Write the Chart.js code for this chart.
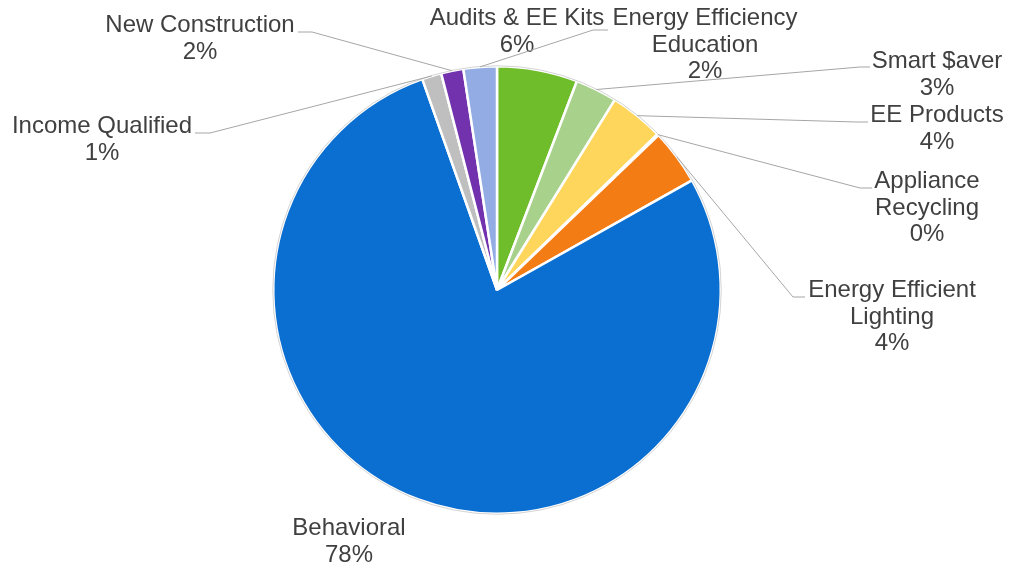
<!DOCTYPE html>
<html>
<head>
<meta charset="utf-8">
<script src="https://cdn.jsdelivr.net/npm/chart.js@4/dist/chart.umd.min.js"></script>
<style>
html,body{margin:0;padding:0;background:#fff;}
#wrap{width:1012px;height:569px;position:relative;}
</style>
</head>
<body>
<div id="wrap"><canvas id="pie"></canvas></div>
<script>
// programs, clockwise from 12 o'clock
var programs = [
  'Audits & EE Kits',
  'Smart $aver',
  'EE Products',
  'Appliance Recycling',
  'Energy Efficient Lighting',
  'Behavioral',
  'Income Qualified',
  'New Construction',
  'Energy Efficiency Education'
];
// share of savings (%)
var shares = [5.8, 3.0, 3.9, 0.1, 4.0, 77.5, 1.4, 1.6, 2.4];
var sliceColors = ['#70bd2b', '#a8d28c', '#ffd65c', '#ffd65c', '#f47c14', '#0b6fd1', '#bfbfbf', '#7232ae', '#93ade4'];

// label text lines (the name is wrapped like the original)
var labelLines = [
  ['Audits & EE Kits'],
  ['Smart $aver'],
  ['EE Products'],
  ['Appliance', 'Recycling'],
  ['Energy Efficient', 'Lighting'],
  ['Behavioral'],
  ['Income Qualified'],
  ['New Construction'],
  ['Energy Efficiency', 'Education']
];

// layout: label centre x / first baseline y, and leader start (null = no leader)
var labelPos = [
  {x: 517, y: 25, lead: null},
  {x: 937, y: 68, lead: [[870, 67], [860, 67]]},
  {x: 937, y: 122, lead: [[868, 122], [856, 122]]},
  {x: 927, y: 188, lead: [[872, 188], [860, 188]]},
  {x: 892, y: 297, lead: [[805, 297], [793, 297]]},
  {x: 349, y: 535, lead: null},
  {x: 102, y: 133, lead: [[195, 133], [210, 133]]},
  {x: 200, y: 32, lead: [[298, 32], [312, 32]]},
  {x: 705, y: 25, lead: [[608, 30], [593, 30]]}
];

var total = shares.reduce(function(a, b){ return a + b; }, 0);

var labelPlugin = {
  id: 'pieLabels',
  afterDatasetsDraw: function(chart) {
    var ctx = chart.ctx;
    var meta = chart.getDatasetMeta(0);
    var arc0 = meta.data[0];
    // faint outline round the pie
    ctx.save();
    ctx.beginPath();
    ctx.arc(arc0.x, arc0.y, arc0.outerRadius + 0.5, 0, Math.PI * 2);
    ctx.strokeStyle = '#d4d4d4';
    ctx.lineWidth = 1;
    ctx.stroke();

    ctx.font = '24px "Liberation Sans", Arial, sans-serif';
    ctx.fillStyle = '#404040';
    ctx.textAlign = 'center';
    ctx.textBaseline = 'alphabetic';
    meta.data.forEach(function(arc, i) {
      var p = labelPos[i];
      if (p.lead) {
        var mid = (arc.startAngle + arc.endAngle) / 2;
        var r = arc.outerRadius;
        var ex = arc.x + Math.cos(mid) * r;
        var ey = arc.y + Math.sin(mid) * r;
        ctx.beginPath();
        ctx.moveTo(p.lead[0][0], p.lead[0][1]);
        ctx.lineTo(p.lead[1][0], p.lead[1][1]);
        ctx.lineTo(ex, ey);
        ctx.strokeStyle = '#a6a6a6';
        ctx.lineWidth = 1;
        ctx.stroke();
      }
      var lines = labelLines[i].concat([Math.round(shares[i] / total * 100) + '%']);
      lines.forEach(function(t, k) {
        ctx.fillText(t, p.x, p.y + k * 26.7);
      });
    });
    ctx.restore();
  }
};

new Chart(document.getElementById('pie').getContext('2d'), {
  type: 'pie',
  data: {
    labels: programs,
    datasets: [{
      data: shares,
      backgroundColor: sliceColors,
      borderColor: '#ffffff',
      borderWidth: 2.5
    }]
  },
  options: {
    responsive: true,
    maintainAspectRatio: false,
    animation: false,
    layout: {padding: {left: 272, right: 290, top: 65, bottom: 54}},
    plugins: {
      legend: {display: false},
      tooltip: {enabled: false}
    }
  },
  plugins: [labelPlugin]
});
</script>
</body>
</html>
